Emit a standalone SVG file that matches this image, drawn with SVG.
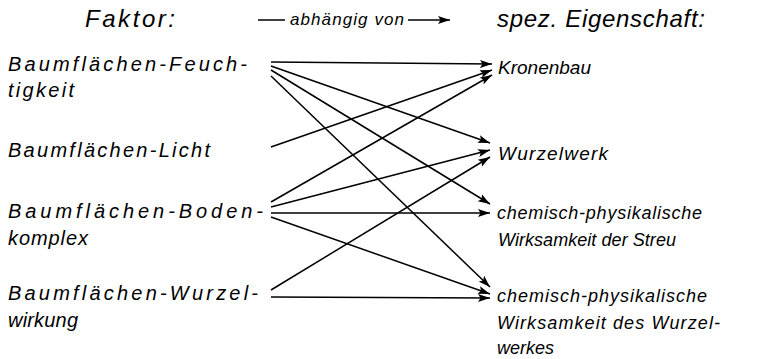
<svg xmlns="http://www.w3.org/2000/svg" width="767" height="359" viewBox="0 0 767 359">
<defs>
<marker id="ah" markerUnits="userSpaceOnUse" markerWidth="13" markerHeight="9" refX="12" refY="4.5" orient="auto">
<path d="M0,0.5 L12,4.5 L0,8.5 L2.5,4.5 Z" fill="#000"/>
</marker>
</defs>
<style>
text{font-family:"Liberation Sans","DejaVu Sans",sans-serif;font-style:italic;fill:#000}
.h{font-size:24px}
.s{font-size:17px}
.l{font-size:20px}
.r{font-size:19px}
.m{font-size:18px}
line{stroke:#000;stroke-width:1.5}
.c line{marker-end:url(#ah)}
</style>
<rect width="767" height="359" fill="#fff"/>
<g id="header">
<text class="h" x="85" y="27" textLength="90" lengthAdjust="spacing">Faktor:</text>
<line x1="258" y1="20" x2="285" y2="20"/>
<text class="s" x="290" y="25" textLength="114" lengthAdjust="spacing">abhängig von</text>
<line x1="408" y1="20" x2="450" y2="20" marker-end="url(#ah)"/>
<text class="h" x="497" y="27" textLength="208" lengthAdjust="spacing">spez. Eigenschaft:</text>
</g>
<g id="f1"><text class="l" x="8" y="71" textLength="239" lengthAdjust="spacing">Baumflächen-Feuch-</text><text class="l" x="8" y="97" textLength="66" lengthAdjust="spacing">tigkeit</text></g>
<g id="f2"><text class="l" x="8" y="157" textLength="202" lengthAdjust="spacing">Baumflächen-Licht</text></g>
<g id="f3"><text class="l" x="8" y="218" textLength="255" lengthAdjust="spacing">Baumflächen-Boden-</text><text class="l" x="8" y="245" textLength="80" lengthAdjust="spacing">komplex</text></g>
<g id="f4"><text class="l" x="8" y="300" textLength="250" lengthAdjust="spacing">Baumflächen-Wurzel-</text><text class="l" x="8" y="327" textLength="70" lengthAdjust="spacing">wirkung</text></g>
<g id="e1"><text class="r" x="498" y="74" textLength="93" lengthAdjust="spacing">Kronenbau</text></g>
<g id="e2"><text class="r" x="498" y="160" textLength="110" lengthAdjust="spacing">Wurzelwerk</text></g>
<g id="e3"><text class="m" x="497" y="219" textLength="205" lengthAdjust="spacing">chemisch-physikalische</text><text class="m" x="498" y="246" textLength="178" lengthAdjust="spacing">Wirksamkeit der Streu</text></g>
<g id="e4"><text class="m" x="497" y="302" textLength="210" lengthAdjust="spacing">chemisch-physikalische</text><text class="m" x="497" y="329" textLength="223" lengthAdjust="spacing">Wirksamkeit des Wurzel-</text><text class="m" x="497" y="354" textLength="57" lengthAdjust="spacing">werkes</text></g>
<g id="connectors" class="c">
<line x1="271" y1="62" x2="492" y2="64"/>
<line x1="271" y1="66" x2="490" y2="143"/>
<line x1="271" y1="70" x2="490" y2="204"/>
<line x1="271" y1="76" x2="490" y2="287"/>
<line x1="271" y1="147" x2="492" y2="70"/>
<line x1="271" y1="202" x2="492" y2="75"/>
<line x1="271" y1="207" x2="490" y2="150"/>
<line x1="271" y1="213" x2="490" y2="213"/>
<line x1="271" y1="217" x2="490" y2="294"/>
<line x1="271" y1="290" x2="490" y2="157"/>
<line x1="271" y1="297" x2="490" y2="298"/>
</g>
</svg>
